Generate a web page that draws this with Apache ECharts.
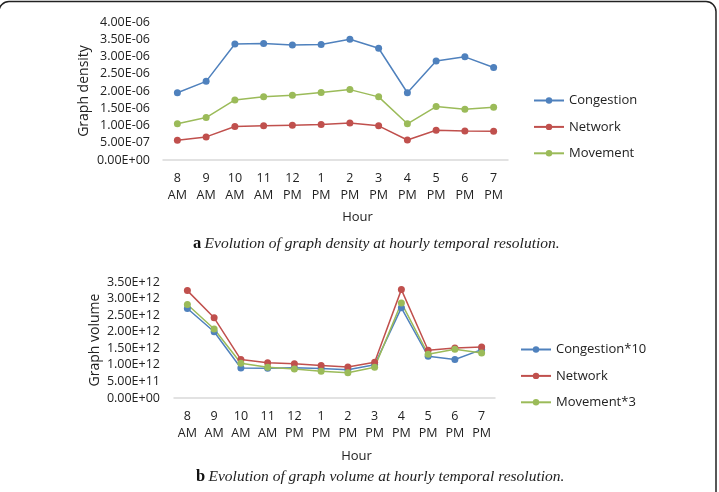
<!DOCTYPE html>
<html>
<head>
<meta charset="utf-8">
<script src="https://cdn.jsdelivr.net/npm/echarts/dist/echarts.min.js"></script>
<style>
html,body{margin:0;padding:0;background:#fff;}
#chart{width:719px;height:492px;}
</style>
</head>
<body>
<div id="chart"></div>
<script>
// hours on the x axis (same for both panels)
var hours = ['8\nAM','9\nAM','10\nAM','11\nAM','12\nPM','1\nPM','2\nPM','3\nPM','4\nPM','5\nPM','6\nPM','7\nPM'];

// panel a - graph density
var densityCongestion = [1.95e-6,2.28e-6,3.36e-6,3.38e-6,3.33e-6,3.35e-6,3.50e-6,3.24e-6,1.95e-6,2.87e-6,2.99e-6,2.68e-6];
var densityNetwork    = [0.57e-6,0.67e-6,0.97e-6,0.99e-6,1.01e-6,1.03e-6,1.07e-6,0.99e-6,0.58e-6,0.86e-6,0.84e-6,0.83e-6];
var densityMovement   = [1.05e-6,1.23e-6,1.74e-6,1.83e-6,1.88e-6,1.96e-6,2.04e-6,1.83e-6,1.05e-6,1.55e-6,1.47e-6,1.53e-6];
var densityTicks = ['0.00E+00','5.00E-07','1.00E-06','1.50E-06','2.00E-06','2.50E-06','3.00E-06','3.50E-06','4.00E-06'];

// panel b - graph volume
var volumeCongestion10 = [2.70e12,2.00e12,0.905e12,0.90e12,0.91e12,0.89e12,0.855e12,1.00e12,2.72e12,1.26e12,1.16e12,1.46e12];
var volumeNetwork      = [3.24e12,2.42e12,1.16e12,1.06e12,1.03e12,0.98e12,0.935e12,1.08e12,3.27e12,1.44e12,1.51e12,1.54e12];
var volumeMovement3    = [2.82e12,2.08e12,1.05e12,0.925e12,0.875e12,0.81e12,0.76e12,0.93e12,2.87e12,1.32e12,1.47e12,1.36e12];
var volumeTicks = ['0.00E+00','5.00E+11','1.00E+12','1.50E+12','2.00E+12','2.50E+12','3.00E+12','3.50E+12'];

var blue = '#4f81bd', red = '#c0504d', green = '#9bbb59';
var labelFont = 'Open Sans';

function lineSeries(name, data, color, idx) {
  return {
    name: name,
    type: 'line',
    data: data,
    xAxisIndex: idx,
    yAxisIndex: idx,
    symbol: 'circle',
    symbolSize: 7,
    lineStyle: { color: color, width: 1.5 },
    itemStyle: { color: color },
    emphasis: { disabled: true },
    animation: false
  };
}

function xAxisFor(idx, gap) {
  return {
    type: 'category',
    gridIndex: idx,
    data: hours,
    name: 'Hour',
    nameLocation: 'middle',
    nameGap: gap,
    nameTextStyle: { fontFamily: labelFont, fontSize: 13, color: '#222', padding: [0, 0, 0, 44] },
    axisTick: { show: false },
    axisLine: { lineStyle: { color: '#d9d9d9', width: 1.5 } },
    axisLabel: { fontFamily: labelFont, fontSize: 12.5, color: '#222', margin: 10, lineHeight: 17, interval: 0 }
  };
}

function yAxisFor(idx, name, max, step, ticks, margin) {
  return {
    type: 'value',
    gridIndex: idx,
    min: 0,
    max: max,
    interval: step,
    name: name,
    nameLocation: 'middle',
    nameGap: 72,
    nameTextStyle: { fontFamily: labelFont, fontSize: 14, color: '#222' },
    axisLine: { show: false },
    axisTick: { show: false },
    splitLine: { show: false },
    axisLabel: {
      fontFamily: labelFont, fontSize: 12.5, color: '#222', margin: margin,
      formatter: function (v, i) { return ticks[Math.round(v / step)]; }
    }
  };
}

function legendFor(names, left, top) {
  return {
    data: names,
    orient: 'vertical', left: left, top: top, padding: 0,
    itemWidth: 30, itemHeight: 8, itemGap: 13.4,
    textStyle: { fontFamily: labelFont, fontSize: 13, color: '#222' }
  };
}

// caption under each panel: bold letter + italic serif text
function caption(letter, text, left, top) {
  return {
    type: 'text', left: left, top: top,
    style: {
      text: '{b|' + letter + '} {i|' + text + '}',
      rich: {
        b: { fontFamily: 'Liberation Serif', fontWeight: 'bold', fontSize: 16.5, fill: '#111' },
        i: { fontFamily: 'Liberation Serif', fontStyle: 'italic', fontSize: 15.5, fill: '#222' }
      }
    }
  };
}

var chart = echarts.init(document.getElementById('chart'));
chart.setOption({
  animation: false,
  grid: [
    { left: 163, top: 22, width: 345, height: 138 },
    { left: 174, top: 282, width: 321, height: 116 }
  ],
  xAxis: [xAxisFor(0, 51), xAxisFor(1, 52)],
  yAxis: [
    yAxisFor(0, 'Graph density', 4e-6, 5e-7, densityTicks, 13),
    yAxisFor(1, 'Graph volume', 3.5e12, 5e11, volumeTicks, 14)
  ],
  legend: [
    legendFor(['Congestion', 'Network', 'Movement'], 533, 94),
    legendFor(['Congestion*10', 'Network ', 'Movement*3'], 520, 343)
  ],
  series: [
    lineSeries('Congestion', densityCongestion, blue, 0),
    lineSeries('Network', densityNetwork, red, 0),
    lineSeries('Movement', densityMovement, green, 0),
    lineSeries('Congestion*10', volumeCongestion10, blue, 1),
    lineSeries('Network ', volumeNetwork, red, 1),
    lineSeries('Movement*3', volumeMovement3, green, 1)
  ],
  graphic: [
    // frame round the figure (left side falls outside the picture)
    {
      type: 'rect', silent: true,
      shape: { x: -1, y: 1.5, width: 717, height: 600, r: 10 },
      style: { fill: 'none', stroke: '#222', lineWidth: 1.5 }
    },
    caption('a', 'Evolution of graph density at hourly temporal resolution.', 193, 235),
    caption('b', 'Evolution of graph volume at hourly temporal resolution.', 196, 468)
  ]
});
</script>
</body>
</html>
